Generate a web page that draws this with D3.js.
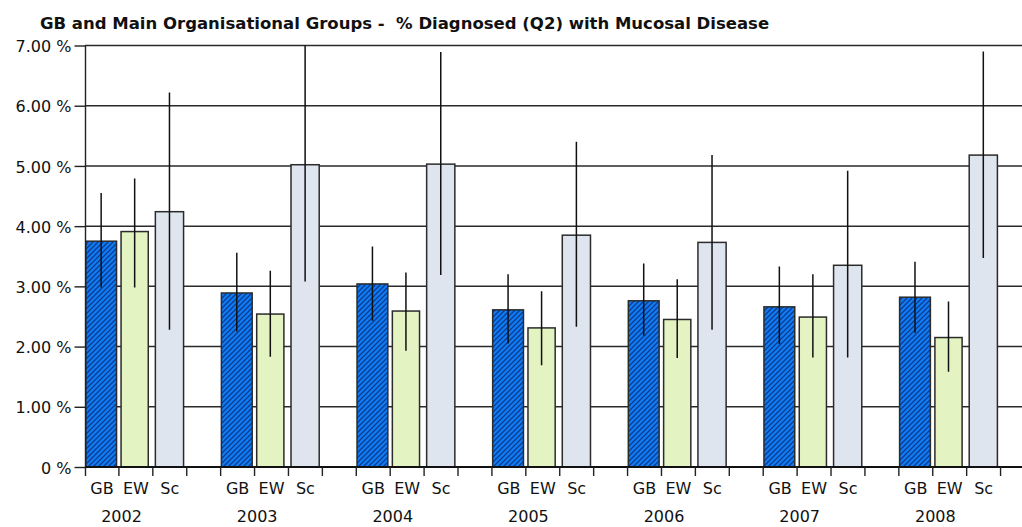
<!DOCTYPE html>
<html>
<head>
<meta charset="utf-8">
<script src="https://cdn.jsdelivr.net/npm/d3@7"></script>
<style>
html,body{margin:0;padding:0;background:#fff;}
svg{display:block;}
text{font-family:"DejaVu Sans",Verdana,sans-serif;fill:#111;}
</style>
</head>
<body>
<script>
const years = [2002, 2003, 2004, 2005, 2006, 2007, 2008];
const groups = ["GB", "EW", "Sc"];
const gb     = [3.75, 2.89, 3.04, 2.61, 2.76, 2.66, 2.82];
const gbLow  = [2.98, 2.25, 2.43, 2.05, 2.18, 2.04, 2.23];
const gbHigh = [4.55, 3.56, 3.66, 3.20, 3.38, 3.33, 3.41];
const ew     = [3.91, 2.54, 2.59, 2.31, 2.45, 2.49, 2.15];
const ewLow  = [2.98, 1.83, 1.93, 1.69, 1.81, 1.82, 1.58];
const ewHigh = [4.79, 3.26, 3.23, 2.92, 3.12, 3.20, 2.75];
const sc     = [4.24, 5.02, 5.03, 3.85, 3.73, 3.35, 5.18];
const scLow  = [2.28, 3.08, 3.19, 2.33, 2.28, 1.82, 3.47];
const scHigh = [6.22, 7.00, 6.89, 5.40, 5.18, 4.92, 6.90];
const yTicks = [0, 1, 2, 3, 4, 5, 6, 7];
const title = "GB and Main Organisational Groups -  % Diagnosed (Q2) with Mucosal Disease";

const W = 1022, H = 527;
const svg = d3.select("body").append("svg").attr("width", W).attr("height", H);

const defs = svg.append("defs");
const pat = defs.append("pattern").attr("id", "hatch").attr("patternUnits", "userSpaceOnUse")
  .attr("width", 5).attr("height", 5);
pat.append("rect").attr("width", 5).attr("height", 5).attr("fill", "#0f7cf5");
pat.append("path").attr("d", "M-1,1 L1,-1 M0,5 L5,0 M4,6 L6,4")
  .attr("stroke", "#0b3b8e").attr("stroke-width", 1.3);

const seriesVals = {GB: gb, EW: ew, Sc: sc};
const seriesLow = {GB: gbLow, EW: ewLow, Sc: scLow};
const seriesHigh = {GB: gbHigh, EW: ewHigh, Sc: scHigh};
const fills = {GB: "url(#hatch)", EW: "#e3f3c1", Sc: "#dfe5ee"};
const barOffset = {GB: 0, EW: 1.4, Sc: 1.8};
const barWidth = {GB: 32.3, EW: 28.7, Sc: 29.7};

const slots = [];
years.forEach(yr => { groups.forEach(g => slots.push(g + "-" + yr)); slots.push("gap-" + yr); });

const left = 85, slotW = 33.91;
const x = d3.scaleBand().domain(slots).range([left, left + slotW * slots.length]).padding(0);
const y = d3.scaleLinear().domain([0, 7]).range([467, 45.5]);
const right = W;

const clip = defs.append("clipPath").attr("id", "plotclip");
clip.append("rect").attr("x", left).attr("y", y(7) - 0.5).attr("width", right - left).attr("height", y(0) - y(7) + 1);

// gridlines
svg.append("g").selectAll("line").data(yTicks.filter(d => d > 0)).join("line")
  .attr("x1", left).attr("x2", right).attr("y1", d => y(d)).attr("y2", d => y(d))
  .attr("stroke", "#2a2a2a").attr("stroke-width", 1.5);

// bars
const barData = [];
years.forEach((yr, i) => groups.forEach(g => barData.push({
  key: g + "-" + yr, g, v: seriesVals[g][i], lo: seriesLow[g][i], hi: seriesHigh[g][i]
})));

svg.append("g").selectAll("rect").data(barData).join("rect")
  .attr("x", d => x(d.key) + barOffset[d.g] + 0.75)
  .attr("width", d => barWidth[d.g] - 1.5)
  .attr("y", d => y(d.v))
  .attr("height", d => y(0) - y(d.v))
  .attr("fill", d => fills[d.g])
  .attr("stroke", "#2b2b2b").attr("stroke-width", 1.5);

// error bars
svg.append("g").attr("clip-path", "url(#plotclip)").selectAll("line").data(barData).join("line")
  .attr("x1", d => x(d.key) + barOffset[d.g] + barWidth[d.g] / 2)
  .attr("x2", d => x(d.key) + barOffset[d.g] + barWidth[d.g] / 2)
  .attr("y1", d => y(d.lo)).attr("y2", d => y(d.hi))
  .attr("stroke", "#111").attr("stroke-width", 1.5);

// y axis
const yAxis = d3.axisLeft(y).tickValues(yTicks)
  .tickFormat(d => d === 0 ? "0 %" : d.toFixed(2) + " %").tickSize(11).tickPadding(3);
const ya = svg.append("g").attr("transform", `translate(${left + 0.5},0)`).call(yAxis);
ya.select(".domain").remove();
ya.selectAll(".tick line").attr("stroke", "#222").attr("stroke-width", 1.4);
ya.selectAll(".tick text").attr("font-size", 16).attr("font-family", "DejaVu Sans").attr("fill", "#111").attr("dy", "0.38em");
svg.append("line").attr("x1", left + 0.5).attr("x2", left + 0.5).attr("y1", y(7)).attr("y2", 476)
  .attr("stroke", "#222").attr("stroke-width", 1.4);

// x axis line
svg.append("line").attr("x1", left).attr("x2", right).attr("y1", y(0)).attr("y2", y(0))
  .attr("stroke", "#111").attr("stroke-width", 2);

// x ticks at slot boundaries
const tickPos = slots.map(s => x(s)).concat([x(slots[slots.length - 1]) + x.bandwidth()]);
svg.append("g").selectAll("line").data(tickPos.slice(1)).join("line")
  .attr("x1", d => d).attr("x2", d => d).attr("y1", y(0)).attr("y2", 476)
  .attr("stroke", "#222").attr("stroke-width", 1.4);

// category labels
svg.append("g").selectAll("text").data(barData).join("text")
  .attr("x", d => x(d.key) + x.bandwidth() / 2)
  .attr("y", 494).attr("text-anchor", "middle").attr("font-size", 16)
  .text(d => d.g);

// year labels
svg.append("g").selectAll("text").data(years).join("text")
  .attr("x", yr => x("GB-" + yr) + 36.5)
  .attr("y", 522).attr("text-anchor", "middle").attr("font-size", 16)
  .text(yr => yr);

// title
svg.append("text").attr("x", 40).attr("y", 29).attr("font-size", 16.5).attr("font-weight", "bold")
  .style("white-space", "pre").attr("xml:space", "preserve")
  .text(title);
</script>
</body>
</html>
